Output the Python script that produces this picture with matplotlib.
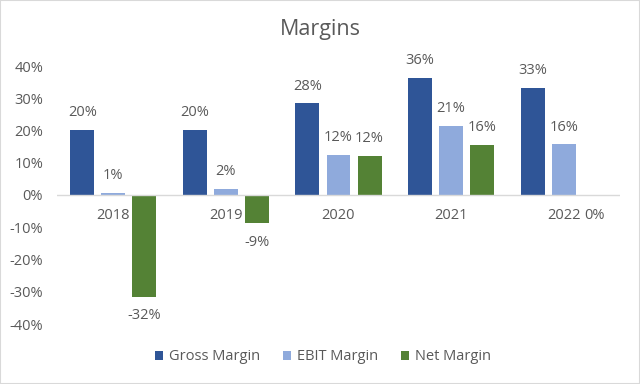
import matplotlib
matplotlib.use("Agg")
import matplotlib.pyplot as plt
from matplotlib.patches import Rectangle
import numpy as np

years = ["2018", "2019", "2020", "2021", "2022"]
gross = [20.1, 20.3, 28.4, 36.2, 33.3]
ebit = [0.7, 1.9, 12.4, 21.3, 15.7]
net = [-31.5, -8.8, 12.1, 15.6, -0.4]
series_names = ["Gross Margin", "EBIT Margin", "Net Margin"]
colors = ["#2F5597", "#8FAADC", "#548235"]

plt.rcParams['font.family'] = ['Open Sans', 'DejaVu Sans']
grey = "#595959"
fs = 10.5

fig = plt.figure(figsize=(6.4, 3.84), dpi=100)
ax = fig.add_axes([57 / 640, 1 - 324 / 384, 563 / 640, 258 / 384])

x = np.arange(len(years))
width = 0.213
step = 0.276
for k, (vals, name, c) in enumerate(zip([gross, ebit, net], series_names, colors)):
    pos = x + (k - 1) * step
    ax.bar(pos, vals, width, color=c, label=name)
    for p, v in zip(pos, vals):
        off = 12.5 if v >= 0 else -13.5
        ax.annotate("%d%%" % round(v), (p, v), xytext=(0, off), textcoords="offset points",
                    ha="center", va="center", fontsize=fs, color=grey)

for i, y in enumerate(years):
    ax.annotate(y, (i, 0), xytext=(0, -14.5), textcoords="offset points",
                ha="center", va="center", fontsize=fs, color=grey)

ax.axhline(0, color="#d9d9d9", lw=1)
ax.set_xlim(-0.5, len(years) - 0.5)
ax.set_ylim(-40, 40)
ticks = np.arange(-40, 41, 10)
ax.set_yticks(ticks)
ax.set_yticklabels(["%d%%" % t for t in ticks], color=grey, fontsize=fs)
ax.set_xticks([])
ax.tick_params(axis="y", length=0, pad=10)
for s in ax.spines.values():
    s.set_visible(False)

fig.text(320 / 640, 1 - 30 / 384, "Margins", ha="center", va="center", fontsize=15.5, color=grey)

leg = fig.legend(loc="center", bbox_to_anchor=(323 / 640, 1 - 357 / 384), ncol=3, frameon=False,
                 fontsize=fs, handlelength=0.55, handleheight=0.55, handletextpad=0.4, columnspacing=1.6)
for t in leg.get_texts():
    t.set_color(grey)

fig.patches.append(Rectangle((0, 0), 1, 1, transform=fig.transFigure, fill=False,
                             edgecolor="#d9d9d9", lw=1.5))

fig.savefig("out.png", dpi=100)
